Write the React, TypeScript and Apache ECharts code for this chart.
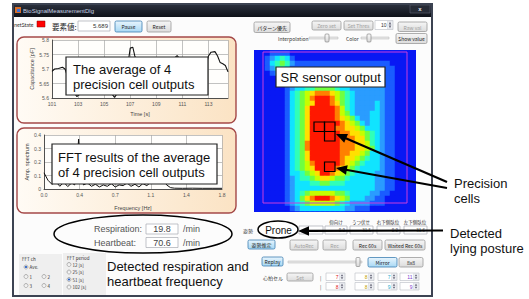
import React, { useEffect, useRef } from 'react';
import * as echarts from 'echarts';

// ---------------- data ----------------
const capTime = [101.0, 101.2, 101.5, 101.8, 102.0, 102.3, 102.6, 102.9, 103.2, 103.5, 103.8, 104.1, 104.4, 104.7, 105.0, 105.4, 105.8, 106.2, 106.6, 106.9, 107.0, 107.2, 107.35, 107.6, 108.0, 108.4, 108.8, 109.2, 109.6, 110.0, 110.4, 110.6, 110.8, 111.2, 111.6, 112.0, 112.4, 112.8, 113.0, 113.2, 113.5, 113.7, 113.9, 114.1, 114.3, 114.5];
const capValue = [5.692, 5.700, 5.702, 5.706, 5.700, 5.660, 5.625, 5.605, 5.615, 5.660, 5.720, 5.735, 5.725, 5.690, 5.655, 5.625, 5.602, 5.630, 5.690, 5.740, 5.772, 5.775, 5.745, 5.720, 5.690, 5.650, 5.620, 5.640, 5.690, 5.725, 5.738, 5.746, 5.735, 5.700, 5.655, 5.625, 5.650, 5.710, 5.745, 5.758, 5.760, 5.745, 5.722, 5.718, 5.712, 5.690];
const timeStart = 101;

const fftFreq = [0, 0.04, 0.08, 0.12, 0.16, 0.2, 0.24, 0.28, 0.31, 0.33, 0.35, 0.37, 0.4, 0.44, 0.48, 0.52, 0.56, 0.6, 0.64, 0.68, 0.72, 0.76, 0.8, 0.84, 0.88, 0.92, 0.96, 1.0, 1.04, 1.08, 1.12, 1.16, 1.18, 1.2, 1.24, 1.28, 1.32, 1.4, 1.5, 1.6, 1.7, 1.8];
const fftAmp = [0.12, 0.065, 0.035, 0.055, 0.02, 0.05, 0.018, 0.045, 0.03, 0.15, 0.37, 0.12, 0.03, 0.045, 0.02, 0.035, 0.015, 0.03, 0.02, 0.04, 0.015, 0.03, 0.025, 0.045, 0.02, 0.035, 0.015, 0.04, 0.025, 0.05, 0.09, 0.16, 0.2, 0.1, 0.03, 0.01, 0.006, 0.005, 0.006, 0.005, 0.005, 0.005];

// heat levels 0..9 per cell, 32 x 32 (row 0 = top)
const heatRows = [
  '00011110 00000000 00000000 00000000',
  '00123431 00000000 00000000 00000000',
  '00134542 11111111 11111111 11100000',
  '00124431 11111111 11111111 11110000',
  '00012211 11111111 11111111 11110000',
  '00000111 11111111 11111111 11110000',
  '00000111 12222222 22222211 11110000',
  '00000012 33445555 43322222 22110000',
  '00000013 45678887 65432222 22110000',
  '00000013 45689998 65432222 22110000',
  '00000013 45679998 75432222 32110000',
  '00000013 45799999 86432222 32110000',
  '00000013 45799999 86532223 32110000',
  '00000013 45799999 87653223 32110000',
  '00000013 45799999 98765323 32110000',
  '00000013 45799999 88776533 32110000',
  '00000013 45799999 98877654 32110000',
  '00000013 45799999 98887754 32110000',
  '00000013 45899999 98887764 32110000',
  '00000013 45899999 98887765 32110000',
  '00000013 45799999 98877653 32110000',
  '00000013 45799999 98776543 32110000',
  '00000013 45689999 98765433 32110000',
  '00000013 45679999 87654333 32110000',
  '00000013 34567998 76543333 22110000',
  '00000012 34456776 55433333 22110000',
  '00000012 33344554 44333333 22110000',
  '00000012 33333333 33333333 22110000',
  '00000012 34566666 55433332 21100000',
  '00000012 35789998 76533322 11000000',
  '00000012 34566666 54322221 11000000',
  '00000001 23333333 33221110 00000000',
];
const heatPalette = ['#0818f4', '#1a5cff', '#2a9cff', '#10e4ff', '#30ffb8', '#70ff40', '#c4ff00', '#ffe000', '#ff8000', '#ff1800'];

// ---------------- drawing helpers ----------------
const SANS = '"Liberation Sans", Arial, sans-serif';
const UI = '"Noto Sans CJK JP", "Liberation Sans", sans-serif';

const vgrad = (a: string, b: string) => ({ type: 'linear', x: 0, y: 0, x2: 0, y2: 1, colorStops: [{ offset: 0, color: a }, { offset: 1, color: b }] });
const hgrad = (a: string, b: string) => ({ type: 'linear', x: 0, y: 0, x2: 1, y2: 0, colorStops: [{ offset: 0, color: a }, { offset: 1, color: b }] });

function T(x: number, y: number, text: string, size: number, color = '#333', align = 'left', font = UI, z = 12, weight = 'normal'): any {
  return {
    type: 'text', z, x, y, silent: true,
    style: { text, fontSize: size, fontFamily: font, fontWeight: weight, fill: color, align, textAlign: align, verticalAlign: 'middle', textVerticalAlign: 'middle' },
  };
}
function R(x: number, y: number, w: number, h: number, style: any, z = 10, r = 0): any {
  return { type: 'rect', z, silent: true, shape: { x, y, width: w, height: h, r }, style };
}
function Btn(x: number, y: number, w: number, h: number, label: string, kind = 'n', size = 5): any[] {
  const blue = kind === 'b';
  return [
    R(x, y, w, h, { fill: blue ? vgrad('#e8f5fd', '#a8d8f4') : vgrad('#f6f6f6', '#dcdcdc'), stroke: blue ? '#3c7fb1' : '#9a9a9a', lineWidth: 0.8 }, 10, 1.5),
    T(x + w / 2, y + h / 2 + 0.3, label, size, kind === 'd' ? '#a0a0a0' : '#1a1a1a', 'center', UI, 11),
  ];
}
function Box(x: number, y: number, w: number, h: number, val: string, size: number, align = 'right', color = '#333', font = UI): any[] {
  return [
    R(x, y, w, h, { fill: '#ffffff', stroke: '#a8abb2', lineWidth: 0.7 }),
    T(align === 'right' ? x + w - 2 : x + w / 2, y + h / 2 + 0.3, val, size, color, align, font, 11),
  ];
}
function Radio(x: number, y: number, label: string, sel = false): any[] {
  const els: any[] = [{ type: 'circle', z: 10, silent: true, shape: { cx: x, cy: y, r: 2 }, style: { fill: vgrad('#e4e4e4', '#ffffff'), stroke: '#8a8a8a', lineWidth: 0.6 } }];
  if (sel) els.push({ type: 'circle', z: 11, silent: true, shape: { cx: x, cy: y, r: 1.1 }, style: { fill: '#2a62c8' } });
  els.push(T(x + 3.6, y + 0.2, label, 4.5, '#333', 'left', UI, 11));
  return els;
}
function Slider(x1: number, x2: number, y: number, tx: number, th = 8): any[] {
  return [
    R(x1, y - 1, x2 - x1, 2, { fill: '#e8e8e8', stroke: '#b4b4b4', lineWidth: 0.5 }),
    R(tx - 2, y - th / 2, 4, th, { fill: vgrad('#fafafa', '#d8d8d8'), stroke: '#7a7a7a', lineWidth: 0.6 }, 11, 1),
  ];
}
function Spin(x: number, y: number, w: number, h: number, val: string, color: string): any[] {
  const ax = x + w - 5.5;
  return [
    R(x, y, w, h, { fill: '#ffffff', stroke: '#b8bcc4', lineWidth: 0.6 }),
    T(ax - 1, y + h / 2 + 0.3, val, 5, color, 'right', SANS, 11),
    R(ax, y + 0.5, 5, h - 1, { fill: '#eef0f4', stroke: '#c4c8d0', lineWidth: 0.4 }, 11),
    { type: 'polygon', z: 12, silent: true, shape: { points: [[ax + 1.2, y + h / 2 - 0.6], [ax + 3.8, y + h / 2 - 0.6], [ax + 2.5, y + 1.2]] }, style: { fill: '#667' } },
    { type: 'polygon', z: 12, silent: true, shape: { points: [[ax + 1.2, y + h / 2 + 0.6], [ax + 3.8, y + h / 2 + 0.6], [ax + 2.5, y + h - 1.2]] }, style: { fill: '#667' } },
  ];
}
function Arrow(x1: number, y1: number, x2: number, y2: number, head = 11, hw = 4.8, lw = 2.2): any[] {
  const dx = x2 - x1, dy = y2 - y1, L = Math.hypot(dx, dy), ux = dx / L, uy = dy / L;
  const bx = x2 - ux * head, by = y2 - uy * head, nx = -uy, ny = ux;
  return [
    { type: 'line', z: 30, silent: true, shape: { x1, y1, x2: bx + ux, y2: by + uy }, style: { stroke: '#000', lineWidth: lw } },
    { type: 'polygon', z: 31, silent: true, shape: { points: [[x2, y2], [bx + nx * hw, by + ny * hw], [bx - nx * hw, by - ny * hw]] }, style: { fill: '#000' } },
  ];
}

function buildOption(): any {
  const cats = Array.from({ length: 32 }, (_, i) => String(i));
  const heatData: number[][] = [];
  heatRows.forEach((row, r) => row.replace(/ /g, '').split('').forEach((ch, c) => heatData.push([c, r, Number(ch)])));

  const g: any[] = [];
  // window
  g.push(R(12, 17, 421, 280, { fill: '#fcfcfc' }, 0));
  g.push(R(12, 3, 421, 14, { fill: vgrad('#2e3442', '#0e1118') }, 1));
  g.push(R(13, 4, 419, 292, { fill: 'none', stroke: '#3c4352', lineWidth: 2 }, 9));
  g.push(R(15, 7, 6, 6, { fill: '#d8702a' }, 2));
  g.push(R(17, 9, 3, 3, { fill: '#3a6fd8' }, 3));
  g.push(T(23, 10.5, 'BioSignalMeasurementDlg', 6, '#c9d2e2', 'left', SANS, 3));
  g.push(R(410, 5, 20, 8, { fill: '#262b36', stroke: '#5a6070', lineWidth: 0.6 }, 2));
  g.push(T(420, 8.8, 'x', 6, '#e8e8e8', 'center', SANS, 3, 'bold'));

  // top row
  g.push(T(14, 24.5, 'netState', 5, '#222'));
  g.push(R(37, 21, 8, 6, { fill: '#ff0000', stroke: '#880000', lineWidth: 0.5 }));
  g.push(T(52, 26, '要素値:', 7.5, '#222'));
  g.push(...Box(78, 21, 32, 10, '5.689', 6, 'right', '#333', SANS));
  g.push(...Btn(115, 21, 27, 11, 'Pause', 'b'));
  g.push(...Btn(147, 21, 24, 11, 'Reset'));

  // chart panels
  g.push(R(17, 37, 219, 86, { fill: hgrad('#fffbf5', '#fbe3c4'), stroke: '#a44848', lineWidth: 1.4 }, 1, 7));
  g.push(R(17, 128, 219, 85, { fill: hgrad('#fffbf5', '#fbe3c4'), stroke: '#a44848', lineWidth: 1.4 }, 1, 7));
  g.push(R(52, 40, 176, 58, { fill: '#fffefc' }, 2));
  g.push(R(44, 135, 178, 54, { fill: '#fffefc' }, 2));

  // overlay callouts on charts
  g.push(R(66, 57, 142, 38, { fill: '#ffffff', stroke: '#222', lineWidth: 1.2 }, 30));
  g.push(T(73, 69, 'The average of 4', 13, '#111', 'left', SANS, 31));
  g.push(T(73, 84, 'precision cell outputs', 13, '#111', 'left', SANS, 31));
  g.push(R(52, 144, 165, 40, { fill: '#ffffff', stroke: '#222', lineWidth: 1.2 }, 30));
  g.push(T(58, 157, 'FFT results of the average', 13, '#111', 'left', SANS, 31));
  g.push(T(58, 172, 'of 4 precision cell outputs', 13, '#111', 'left', SANS, 31));

  // respiration / heartbeat
  g.push(T(94, 229, 'Respiration:', 9, '#555', 'left', SANS));
  g.push(...Box(146, 224, 32, 10, '19.8', 9, 'center', '#444', SANS));
  g.push(T(183, 229, '/min', 9, '#555', 'left', SANS));
  g.push(T(94, 242.5, 'Heartbeat:', 9, '#555', 'left', SANS));
  g.push(...Box(146, 237.5, 32, 10, '70.6', 9, 'center', '#444', SANS));
  g.push(T(183, 242.5, '/min', 9, '#555', 'left', SANS));
  g.push({ type: 'ellipse', z: 30, silent: true, shape: { cx: 143, cy: 234, rx: 89, ry: 19 }, style: { fill: 'none', stroke: '#000', lineWidth: 1.5 } });
  g.push(T(107, 266, 'Detected respiration and', 13, '#111', 'left', SANS, 31));
  g.push(T(107, 281, 'heartbeat frequency', 13, '#111', 'left', SANS, 31));

  // FFT groups
  g.push(R(19, 254, 43, 41, { fill: '#efefef' }, 5));
  g.push(T(22, 259, 'FFT ch', 4.5, '#333'));
  g.push(...Radio(26, 267, 'Ave.', true));
  g.push(...Radio(26, 276.5, '1'), ...Radio(44, 276.5, '2'));
  g.push(...Radio(26, 285.5, '3'), ...Radio(44, 285.5, '4'));
  g.push(R(63, 253, 43, 42, { fill: '#efefef' }, 5));
  g.push(T(67, 258, 'FFT period', 4.5, '#333'));
  g.push(...Radio(69, 264.5, '12 [s]'));
  g.push(...Radio(69, 272, '25 [s]'));
  g.push(...Radio(69, 279.5, '51 [s]', true));
  g.push(...Radio(69, 287, '102 [s]'));

  // right toolbar
  g.push(...Btn(254, 22, 36, 10.5, 'パターン優先', 'n', 5));
  g.push(...Btn(312, 21, 29, 9, 'Zero set', 'd'));
  g.push(...Btn(344, 21, 29, 9, 'Set Thres', 'd'));
  g.push(...Spin(375, 20.5, 18, 9, '10', '#333'));
  g.push(...Btn(398, 22, 29, 9.5, 'Raw val', 'd'));
  g.push(T(278, 38, 'Interpolation', 5, '#333'));
  g.push(...Slider(309, 338, 38, 327));
  g.push(T(346, 38, 'Color', 5, '#333'));
  g.push(...Slider(361, 389, 38, 369));
  g.push(...Btn(396, 33.5, 31, 10, 'Show value'));

  // heatmap decorations
  g.push(R(254, 50, 162, 162, { fill: heatPalette[0] }, 2));
  g.push(R(263, 52, 144, 151, { fill: 'none', stroke: '#c83cdc', lineWidth: 1 }, 20));
  g.push(R(276, 67, 109, 20, { fill: '#ffffff', stroke: '#222', lineWidth: 1.2 }, 30));
  g.push(T(280.5, 77.5, 'SR sensor output', 13, '#111', 'left', SANS, 31));
  const sq = { fill: 'none', stroke: '#000', lineWidth: 1.2 };
  g.push(R(314, 122, 10.5, 9.5, sq, 25), R(324.5, 122, 10.5, 9.5, sq, 25), R(324.5, 131.5, 10.5, 9.5, sq, 25), R(324.5, 162, 10.5, 9.5, sq, 25));

  // posture row
  g.push(T(243, 230, '姿勢', 5, '#444'));
  g.push(T(336, 221.5, '仰向け', 4.5, '#333', 'center'));
  g.push(T(361, 221.5, 'うつ伏せ', 4.5, '#333', 'center'));
  g.push(T(388, 221.5, '右下側臥位', 4.5, '#333', 'center'));
  g.push(T(415, 221.5, '左下側臥位', 4.5, '#333', 'center'));
  g.push(...Box(299, 226, 24, 8, '', 4.5));
  g.push(...Box(325, 226, 22, 8, '0.0', 4.5));
  g.push(...Box(350, 226, 23, 8, '31.5', 4.5));
  g.push(...Box(377, 226, 23, 8, '0.0', 4.5));
  g.push(...Box(404, 226, 23, 8, '31.6', 4.5));
  g.push({ type: 'ellipse', z: 30, silent: true, shape: { cx: 278, cy: 229.5, rx: 20, ry: 8.5 }, style: { fill: '#ffffff', stroke: '#000', lineWidth: 1.5 } });
  g.push(T(278.5, 230.5, 'Prone', 10, '#111', 'center', SANS, 31));

  // buttons rows
  g.push(...Btn(248, 240, 27, 9, '姿勢推定', 'b'));
  g.push(...Btn(290, 240, 28, 10, 'AutoRec', 'd'));
  g.push(...Btn(323, 240, 23, 10, 'Rec', 'd'));
  g.push(...Btn(353, 240, 29, 10, 'Rec 60s'));
  g.push(...Btn(385, 240, 40, 10, 'Waited Rec 60s'));
  g.push(...Btn(262, 257, 21, 9, 'Replay', 'b'));
  g.push(...Slider(288, 362, 262, 358, 9));
  g.push(...Btn(368, 257.5, 29, 9.5, 'Mirror', 'b'));
  g.push(...Btn(399, 257.5, 24, 9.5, '8x8'));
  g.push(T(263, 277, '心拍セル', 5, '#333'));
  g.push(...Btn(287, 273, 26, 8, 'Set', 'd'));
  g.push(T(320, 277, '|', 5, '#444'));
  g.push(T(320, 286, '|', 5, '#444'));
  g.push(...Spin(326, 273, 19, 7.5, '7', '#e02020'), ...Spin(355, 273, 19, 7.5, '8', '#c0a000'), ...Spin(378, 273, 19, 7.5, '7', '#20b0d0'), ...Spin(400, 273, 19, 7.5, '11', '#8040d0'));
  g.push(...Spin(326, 282.5, 19, 7.5, '8', '#e02020'), ...Spin(355, 282.5, 19, 7.5, '8', '#c0a000'), ...Spin(378, 282.5, 19, 7.5, '9', '#20b0d0'), ...Spin(400, 282.5, 19, 7.5, '9', '#8040d0'));

  // annotations
  g.push(...Arrow(447, 182, 336, 134));
  g.push(...Arrow(447, 188, 336, 168));
  g.push(...Arrow(443, 230.5, 298, 231));
  g.push(T(454, 183.5, 'Precision', 13, '#111', 'left', SANS, 31));
  g.push(T(454, 198.5, 'cells', 13, '#111', 'left', SANS, 31));
  g.push(T(450, 233, 'Detected', 13, '#111', 'left', SANS, 31));
  g.push(T(450, 248, 'lying posture', 13, '#111', 'left', SANS, 31));

  const axisLbl = { fontSize: 5, color: '#555', margin: 3, fontFamily: SANS };
  const nameStyle = { fontSize: 5.5, color: '#444', fontFamily: SANS };
  const split = { show: true, lineStyle: { color: '#a8a8a8', width: 0.7 } };
  const aline = { show: true, lineStyle: { color: '#333', width: 0.8 } };

  return {
    animation: false,
    backgroundColor: '#ffffff',
    grid: [
      { left: 52, top: 40, width: 176, height: 58 },
      { left: 44, top: 135, width: 178, height: 54 },
      { left: 255, top: 51, width: 160, height: 160 },
    ],
    xAxis: [
      {
        gridIndex: 0, type: 'value', min: 0, max: 13.5, interval: 2, z: 5,
        axisLine: aline, axisTick: { show: false }, splitLine: split,
        axisLabel: { ...axisLbl, formatter: (v: number) => (Math.abs(v / 2 - Math.round(v / 2)) < 1e-6 ? String(timeStart + v) : '') },
        name: 'Time [s]', nameLocation: 'middle', nameGap: 13, nameTextStyle: nameStyle,
      },
      {
        gridIndex: 1, type: 'value', min: 0, max: 1.8, interval: 0.36, z: 5,
        axisLine: aline, axisTick: { show: false }, splitLine: split,
        axisLabel: { ...axisLbl, formatter: (v: number) => v.toFixed(1) },
        name: 'Frequency [Hz]', nameLocation: 'middle', nameGap: 16, nameTextStyle: nameStyle,
      },
      { gridIndex: 2, type: 'category', data: cats, show: false },
    ],
    yAxis: [
      {
        gridIndex: 0, type: 'value', min: 5.6, max: 5.8, interval: 0.05, z: 5,
        axisLine: aline, axisTick: { show: false }, splitLine: split, axisLabel: axisLbl,
        name: 'Capacitance [pF]', nameLocation: 'middle', nameGap: 15, nameRotate: 90, nameTextStyle: nameStyle,
      },
      {
        gridIndex: 1, type: 'value', min: 0, max: 0.4, interval: 0.1, z: 5,
        axisLine: aline, axisTick: { show: false }, splitLine: split, axisLabel: axisLbl,
        name: 'Amp. spectrum', nameLocation: 'middle', nameGap: 11, nameRotate: 90, nameTextStyle: nameStyle,
      },
      { gridIndex: 2, type: 'category', data: cats, show: false, inverse: true },
    ],
    visualMap: [{ type: 'continuous', min: 0, max: 9, show: false, seriesIndex: 2, dimension: 2, inRange: { color: heatPalette } }],
    series: [
      {
        type: 'line', xAxisIndex: 0, yAxisIndex: 0, z: 6, showSymbol: false, silent: true,
        lineStyle: { color: '#111', width: 1.1 },
        data: capTime.map((t, i) => [t - timeStart, capValue[i]]),
      },
      {
        type: 'line', xAxisIndex: 1, yAxisIndex: 1, z: 6, showSymbol: false, silent: true,
        lineStyle: { color: '#111', width: 1 },
        data: fftFreq.map((f, i) => [f, fftAmp[i]]),
      },
      {
        type: 'heatmap', xAxisIndex: 2, yAxisIndex: 2, z: 6, silent: true,
        itemStyle: { borderWidth: 0 }, data: heatData,
      },
    ],
    graphic: { elements: g },
  };
}

export default function App() {
  const ref = useRef<HTMLDivElement>(null);
  useEffect(() => {
    document.body.style.margin = '0';
    const chart = echarts.init(ref.current as HTMLDivElement, null, { renderer: 'svg', width: 529, height: 299 });
    chart.setOption(buildOption());
    return () => chart.dispose();
  }, []);
  return <div ref={ref} style={{ width: 529, height: 299 }} />;
}
